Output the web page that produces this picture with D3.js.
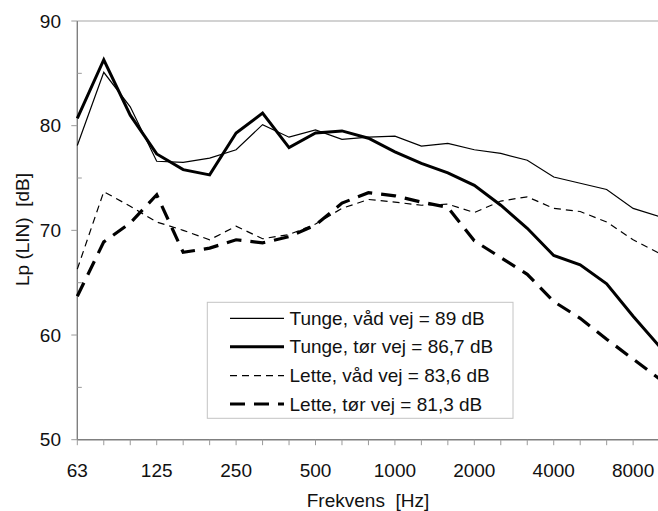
<!DOCTYPE html>
<html>
<head>
<meta charset="utf-8">
<script src="https://cdn.jsdelivr.net/npm/d3@7"></script>
<style>
  html, body { margin: 0; padding: 0; background: #fff; }
  svg { display: block; }
  text { font-family: "Liberation Sans", Arial, sans-serif; fill: #111; white-space: pre; }
</style>
</head>
<body>
<svg id="chart" width="658" height="511"></svg>
<script>
// 1/3-octave bands (Hz)
const bands = [63,80,100,125,160,200,250,315,400,500,630,800,1000,1250,1600,2000,2500,3150,4000,5000,6300,8000,10000];
const xTickLabels = ["63","125","250","500","1000","2000","4000","8000"];
const yTicks = [50,60,70,80,90];
const yMinorTicks = [55,65,75,85];

const tungeVaad = [78.1,85.1,81.8,76.6,76.5,76.9,77.7,80.1,78.9,79.6,78.7,78.9,79.0,78.05,78.3,77.7,77.35,76.7,75.1,74.5,73.9,72.1,71.3];
const tungeToer = [80.7,86.3,81.0,77.3,75.8,75.3,79.3,81.2,77.9,79.3,79.5,78.8,77.5,76.4,75.5,74.3,72.4,70.2,67.6,66.7,64.9,61.8,58.9];
const letteVaad = [66.3,73.7,72.3,70.8,70.0,69.1,70.4,69.2,69.6,70.6,72.1,72.95,72.7,72.4,72.5,71.7,72.8,73.2,72.1,71.8,70.8,69.1,67.8];
const letteToer = [63.7,68.9,70.7,73.4,67.9,68.3,69.1,68.8,69.4,70.5,72.6,73.6,73.3,72.7,72.2,69.0,67.4,65.8,63.2,61.6,59.6,57.7,55.8];

const seriesNames = ["Tunge, våd vej = 89 dB","Tunge, tør vej = 86,7 dB","Lette, våd vej = 83,6 dB","Lette, tør vej = 81,3 dB"];
const seriesData = [tungeVaad, tungeToer, letteVaad, letteToer];
const seriesStyle = [
  {w:1.2, dash:null},
  {w:3.0, dash:null},
  {w:1.2, dash:"7,5"},
  {w:3.2, dash:"15,9"}
];

const svg = d3.select("#chart");
const pLeft = 77.3, pRight = 659.6, pTop = 21, pBottom = 439.7;

const x = d3.scalePoint().domain(bands).range([pLeft, pRight]).padding(0);
const y = d3.scaleLinear().domain([50, 90]).range([pBottom, pTop]);

// plot border (top)
svg.append("line").attr("x1", pLeft).attr("x2", 658).attr("y1", pTop).attr("y2", pTop)
  .attr("stroke", "#a6a6a6").attr("stroke-width", 1.2);

// y axis
const yAxis = svg.append("g");
yAxis.append("line").attr("x1", pLeft).attr("x2", pLeft).attr("y1", pTop).attr("y2", pBottom)
  .attr("stroke", "#7f7f7f").attr("stroke-width", 1.4);
yAxis.selectAll(".maj").data(yTicks).enter().append("line")
  .attr("x1", pLeft - 6).attr("x2", pLeft).attr("y1", d => y(d)).attr("y2", d => y(d))
  .attr("stroke", "#9a9a9a").attr("stroke-width", 1);
yAxis.selectAll(".min").data(yMinorTicks).enter().append("line")
  .attr("x1", pLeft).attr("x2", pLeft + 4.5).attr("y1", d => y(d)).attr("y2", d => y(d))
  .attr("stroke", "#9a9a9a").attr("stroke-width", 1);
yAxis.selectAll("text").data(yTicks).enter().append("text")
  .attr("x", 61).attr("y", d => y(d)).attr("text-anchor", "end")
  .attr("dominant-baseline", "central").attr("font-size", 19).text(d => d);

// x axis
const xAxis = svg.append("g");
xAxis.append("line").attr("x1", pLeft).attr("x2", 658).attr("y1", pBottom).attr("y2", pBottom)
  .attr("stroke", "#7f7f7f").attr("stroke-width", 1.4);
xAxis.selectAll(".tk").data(bands).enter().append("line")
  .attr("x1", d => x(d)).attr("x2", d => x(d)).attr("y1", pBottom).attr("y2", pBottom + 5.5)
  .attr("stroke", "#9a9a9a").attr("stroke-width", 1);
xAxis.selectAll("text").data(xTickLabels).enter().append("text")
  .attr("x", d => x(+d)).attr("y", 470).attr("text-anchor", "middle")
  .attr("dominant-baseline", "central").attr("font-size", 19).text(d => d);

// axis titles
svg.append("text").attr("x", 368).attr("y", 500).attr("text-anchor", "middle")
  .attr("dominant-baseline", "central").attr("font-size", 19).text("Frekvens  [Hz]");
svg.append("text").attr("transform", "translate(22,229.5) rotate(-90)")
  .attr("text-anchor", "middle").attr("dominant-baseline", "central")
  .attr("font-size", 19).text("Lp (LIN)  [dB]");

// lines
const line = d3.line().x((d, i) => x(bands[i])).y(d => y(d));
seriesData.forEach((data, k) => {
  const p = svg.append("path").datum(data).attr("d", line)
    .attr("fill", "none").attr("stroke", "#000")
    .attr("stroke-width", seriesStyle[k].w).attr("stroke-linejoin", "miter");
  if (seriesStyle[k].dash) p.attr("stroke-dasharray", seriesStyle[k].dash);
});

// legend
const lg = svg.append("g");
lg.append("rect").attr("x", 207.3).attr("y", 302.3).attr("width", 305.7).attr("height", 116)
  .attr("fill", "#fff").attr("stroke", "#c4c4c4").attr("stroke-width", 1);
const ly = [318.3, 346.7, 375.7, 404];
seriesNames.forEach((name, k) => {
  const l = lg.append("line").attr("x1", 230).attr("x2", 284).attr("y1", ly[k]).attr("y2", ly[k])
    .attr("stroke", "#000").attr("stroke-width", seriesStyle[k].w);
  if (seriesStyle[k].dash) l.attr("stroke-dasharray", seriesStyle[k].dash);
  lg.append("text").attr("x", 289.5).attr("y", ly[k]).attr("dominant-baseline", "central")
    .attr("font-size", 19).text(name);
});
</script>
</body>
</html>
